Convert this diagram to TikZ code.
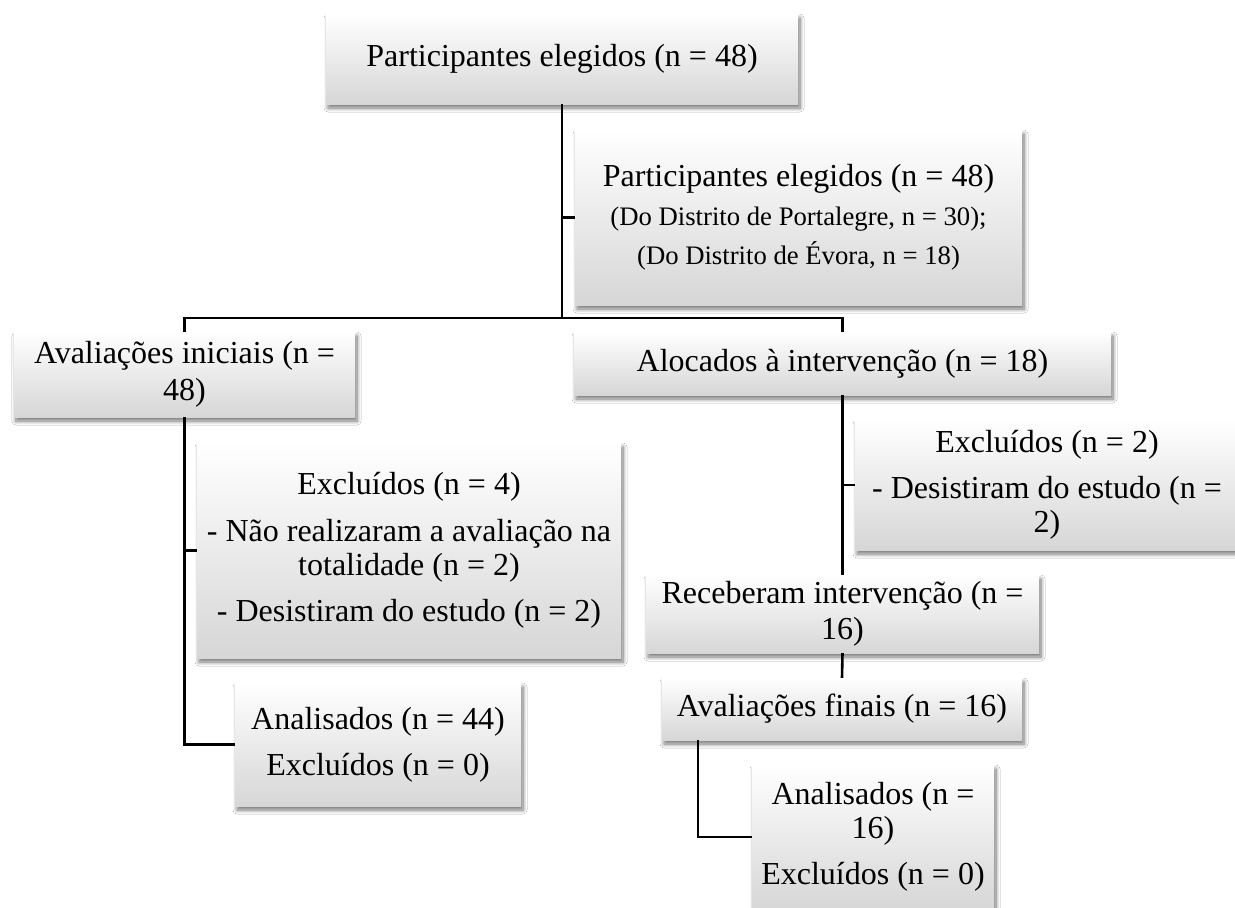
\documentclass[tikz,border=0pt]{standalone}
\usepackage{fontspec}
\setmainfont{Liberation Serif}
\usetikzlibrary{shadows.blur,calc}
\tikzset{
  bx/.style={draw=none, top color=white, middle color=white, bottom color=black!16,
    inner sep=0pt, align=center, font=\fontsize{32}{34}\selectfont,
    blur shadow={shadow xshift=2pt, shadow yshift=-4pt, shadow blur radius=4pt, shadow blur steps=8, shadow opacity=55}},
  conn/.style={line width=2.6pt, black}
}
\newcommand\mybox[6]{%
  \node[bx, minimum width={#4-#2}, minimum height={#5-#3}] (#1) at ({(#2+#4)/2},{(#3+#5)/2}) {#6};}
\begin{document}
\begin{tikzpicture}[x=1pt,y=-1pt]
\useasboundingbox (0,0) rectangle (1235,908);
\clip (0,0) rectangle (1235,908);
\fill[white] (0,0) rectangle (1235,908);
\coordinate (jn) at (562,318);
% boxes
\mybox{b1}{326}{14}{798}{104}{Participantes elegidos (n = 48)}
\mybox{b2}{575}{130}{1022}{305}{Participantes elegidos (n = 48)\\[5pt]{\fontsize{26.7}{30}\selectfont (Do Distrito de Portalegre, n = 30);}\\[5pt]{\fontsize{26.7}{30}\selectfont (Do Distrito de Évora, n = 18)}}
\mybox{b3}{14}{332}{355}{417}{Avaliações iniciais (n =\\[3pt]48)}
\mybox{b4}{574}{332}{1111}{395}{Alocados à intervenção (n = 18)}
\mybox{b5}{197}{443}{621}{658}{Excluídos (n = 4)\\[13pt]- Não realizaram a avaliação na\\totalidade (n = 2)\\[12pt]- Desistiram do estudo (n = 2)}
\mybox{b6}{855}{420}{1239}{550}{Excluídos (n = 2)\\[12pt]- Desistiram do estudo (n =\\2)}
\mybox{b7}{235}{683}{521}{806}{Analisados (n = 44)\\[12pt]Excluídos (n = 0)}
\mybox{b8}{646}{575}{1039}{653}{Receberam intervenção (n =\\[2pt]16)}
\mybox{b9}{662}{678}{1022}{740}{Avaliações finais (n = 16)}
\mybox{b10}{752}{765}{994}{909}{Analisados (n =\\16)\\[12pt]Excluídos (n = 0)}
% connectors
\draw[conn] (b1.south) -- (jn);
\draw[conn] (b2.west) -- (b2.west -| jn);
\draw[conn] (b3.north) -- (b3.north |- jn) -- (b4.north |- jn) -- (b4.north);
\draw[conn] (b3.south) |- (b7.west);
\draw[conn] (b5.west) -- (b5.west -| b3.south);
\draw[conn] (b4.south) -- (b8.north);
\draw[conn] (b6.west) -- (b6.west -| b4.south);
\draw[conn] (b8.south) -- (b9.north);
\draw[conn] ($(b9.south west)+(36,0)$) |- (b10.west);
\end{tikzpicture}
\end{document}
